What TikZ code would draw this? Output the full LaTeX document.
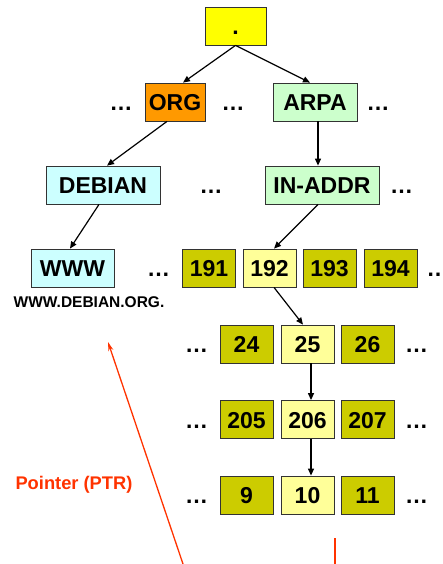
\documentclass[tikz,border=0pt]{standalone}
\usepackage{fontspec}
\setmainfont{Liberation Sans}
\usetikzlibrary{arrows.meta}

\definecolor{rootyellow}{HTML}{FFFF00}
\definecolor{orgorange}{HTML}{FF9900}
\definecolor{arpagreen}{HTML}{CCFFCC}
\definecolor{debcyan}{HTML}{CCFFFF}
\definecolor{octdark}{HTML}{CCCC00}
\definecolor{octlight}{HTML}{FFFF99}
\definecolor{ptrred}{HTML}{FF3300}

\begin{document}
\begin{tikzpicture}[
    x=1pt, y=-1pt,
    >={Triangle[length=7pt,width=6pt]},
    box/.style={draw=black!80, line width=0.8pt, minimum height=38pt,
                inner sep=0pt, text height=17pt, text depth=0pt,
                font=\fontsize{23}{23}\selectfont\bfseries},
    oct/.style={box, minimum width=53pt},
    dots/.style={anchor=base, font=\fontsize{23}{23}\selectfont\bfseries},
    link/.style={->, line width=1.2pt}
  ]
  \useasboundingbox (0,0) rectangle (443,564);

  % Level 0: root
  \node[box, fill=rootyellow, minimum width=61pt] (root) at (235.5, 26) {.};

  % Level 1: top level domains
  \node[box, fill=orgorange, minimum width=60pt] (org) at (175, 102) {ORG};
  \node[box, fill=arpagreen, minimum width=84pt] (arpa) at (315, 102) {ARPA};
  \node[dots] (d1a) at (121, 110.5) {…};
  \node[dots] (d1b) at (233, 110.5) {…};
  \node[dots] (d1c) at (378, 110.5) {…};

  % Level 2
  \node[box, fill=debcyan, minimum width=114pt] (debian) at (103, 185) {DEBIAN};
  \node[box, fill=arpagreen, minimum width=114pt] (inaddr) at (322, 185) {IN-ADDR};
  \node[dots] (d2a) at (211, 193.5) {…};
  \node[dots] (d2b) at (401.5, 193.5) {…};

  % Level 3: host and first octet
  \node[box, fill=debcyan, minimum width=83pt] (www) at (72.5, 268) {WWW};
  \node[font=\fontsize{15.5}{15.5}\selectfont\bfseries, anchor=base]
    (fqdn) at (89, 307.5) {WWW.DEBIAN.ORG.};
  \foreach \n/\x/\c in {191/209/octdark, 192/269.5/octlight,
                        193/329.5/octdark, 194/390.5/octdark} {
    \node[oct, fill=\c] (o\n) at (\x, 268) {\n};
  }
  \node[dots] (d3a) at (158.5, 276.5) {…};
  \node[dots] (d3b) at (438, 276.5) {…};

  % Levels 4-6: remaining octets
  \foreach \n/\x/\c in {24/246.5/octdark, 25/307.5/octlight, 26/367.5/octdark} {
    \node[oct, fill=\c] (o\n) at (\x, 344) {\n};
  }
  \node[dots] (d4a) at (196.5, 352.5) {…};
  \node[dots] (d4b) at (416.5, 352.5) {…};

  \foreach \n/\x/\c in {205/246.5/octdark, 206/307.5/octlight, 207/367.5/octdark} {
    \node[oct, fill=\c] (o\n) at (\x, 419.5) {\n};
  }
  \node[dots] (d5a) at (196.5, 428) {…};
  \node[dots] (d5b) at (416.5, 428) {…};

  \foreach \n/\x/\c in {9/246.5/octdark, 10/307.5/octlight, 11/367.5/octdark} {
    \node[oct, fill=\c] (o\n) at (\x, 495) {\n};
  }
  \node[dots] (d6a) at (196.5, 503.5) {…};
  \node[dots] (d6b) at (416.5, 503.5) {…};

  % Tree links
  \draw[link] (root.south) -- ([xshift=8pt]org.north);
  \draw[link] (root.south) -- ([xshift=-5pt]arpa.north);
  \draw[link] ([xshift=-8pt]org.south) -- ([xshift=4pt]debian.north);
  \draw[link] ([xshift=3pt]arpa.south) -- ([xshift=-4pt]inaddr.north);
  \draw[link] ([xshift=-4pt]debian.south) -- ([xshift=-2.5pt]www.north);
  \draw[link] ([xshift=-4pt]inaddr.south) -- ([xshift=4.5pt]o192.north);
  \draw[link] ([xshift=4.5pt]o192.south) -- ([xshift=-4.5pt]o25.north);
  \draw[link] ([xshift=3.5pt]o25.south) -- ([xshift=3.5pt]o206.north);
  \draw[link] ([xshift=3.5pt]o206.south) -- ([xshift=3.5pt]o10.north);

  % Pointer
  \node[font=\fontsize{18.3}{18.3}\selectfont\bfseries, text=ptrred, anchor=base west]
    (ptr) at (12, 489) {Pointer (PTR)};
  \coordinate (ptrtip) at (108, 342);
  \coordinate (ptrfoot) at (183, 564);
  \coordinate (revtop) at (335, 538);
  \coordinate (revfoot) at (335, 564);
  \draw[-{Stealth[length=9pt,width=5pt]}, ptrred, line width=1.3pt] (ptrfoot) -- (ptrtip);
  \draw[ptrred, line width=1.3pt] (revtop) -- (revfoot);
\end{tikzpicture}
\end{document}
